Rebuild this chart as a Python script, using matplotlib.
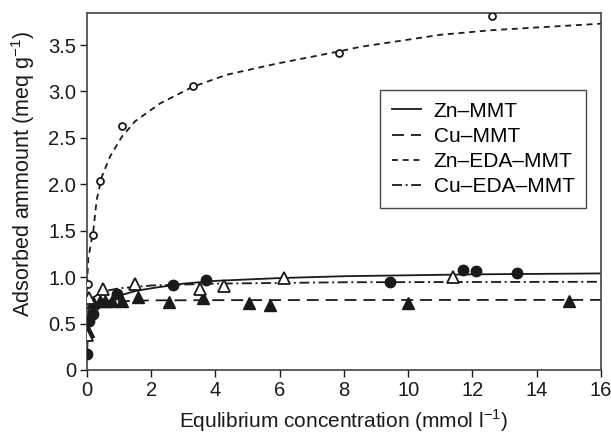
import numpy as np
import matplotlib
matplotlib.use("Agg")
import matplotlib.pyplot as plt

plt.rcParams["font.family"] = ["Liberation Sans", "DejaVu Sans"]
plt.rcParams["mathtext.fontset"] = "custom"
plt.rcParams["mathtext.rm"] = "Liberation Sans"
plt.rcParams["lines.scale_dashes"] = False

# measured points
zn_mmt_x = [0.0, 0.05, 0.2, 0.94, 2.67, 3.71, 9.44, 11.7, 12.1, 13.39]
zn_mmt_y = [0.17, 0.53, 0.60, 0.82, 0.92, 0.97, 0.95, 1.08, 1.07, 1.04]

cu_mmt_x = [0.02, 0.2, 0.4, 0.56, 0.77, 1.1, 1.6, 2.56, 3.62, 5.03, 5.7, 9.99, 14.99]
cu_mmt_y = [0.42, 0.73, 0.74, 0.74, 0.74, 0.74, 0.79, 0.73, 0.77, 0.72, 0.70, 0.72, 0.74]

zneda_x = [0.02, 0.2, 0.4, 1.08, 3.29, 7.83, 12.6]
zneda_y = [0.93, 1.45, 2.04, 2.63, 3.06, 3.41, 3.81]

cueda_x = [0.0, 0.07, 0.5, 1.5, 3.52, 4.25, 6.12, 11.39]
cueda_y = [0.38, 0.77, 0.87, 0.93, 0.87, 0.90, 0.99, 1.00]

# fitted curves
zn_fit_x = [0, 0.02, 0.05, 0.1, 0.2, 0.4, 0.7, 1.0, 1.5, 2, 3, 4, 6, 8, 10, 12, 14, 16]
zn_fit_y = [0.17, 0.32, 0.45, 0.53, 0.60, 0.68, 0.75, 0.80, 0.85, 0.88, 0.93, 0.96, 0.99, 1.01, 1.02, 1.03, 1.035, 1.04]

cu_fit_x = [0, 0.02, 0.05, 0.1, 0.2, 0.4, 0.7, 1.0, 2, 4, 8, 16]
cu_fit_y = [0.35, 0.45, 0.55, 0.62, 0.67, 0.71, 0.73, 0.74, 0.75, 0.752, 0.754, 0.755]

zneda_fit_x = [0, 0.04, 0.2, 0.3, 0.46, 0.72, 1.08, 1.5, 2.27, 3.29, 4.35, 5.91, 7.83, 8.5, 11.0, 12.6, 16]
zneda_fit_y = [0.92, 1.20, 1.51, 1.83, 2.08, 2.30, 2.51, 2.68, 2.87, 3.05, 3.18, 3.30, 3.43, 3.48, 3.61, 3.66, 3.73]

cueda_fit_x = [0, 0.02, 0.05, 0.1, 0.2, 0.4, 0.7, 1.0, 2, 4, 8, 16]
cueda_fit_y = [0.35, 0.50, 0.62, 0.72, 0.78, 0.83, 0.86, 0.88, 0.91, 0.93, 0.945, 0.95]

ink = "#1a1a1a"

fig = plt.figure(figsize=(6.11, 4.36), dpi=100)
ax = fig.add_axes([0.1424, 0.1514, 0.8412, 0.8188])

l1, = ax.plot(zn_fit_x, zn_fit_y, color=ink, lw=1.3, label="Zn\u2013MMT")
l2, = ax.plot(cu_fit_x, cu_fit_y, color=ink, lw=1.3, dashes=(8.6, 5), label="Cu\u2013MMT")
l3, = ax.plot(zneda_fit_x, zneda_fit_y, color=ink, lw=1.3, dashes=(4.3, 3.4), label="Zn\u2013EDA\u2013MMT")
l4, = ax.plot(cueda_fit_x, cueda_fit_y, color=ink, lw=1.3, dashes=(7.2, 2.6, 1.4, 2.6), label="Cu\u2013EDA\u2013MMT")

ax.plot(cu_mmt_x, cu_mmt_y, "^", color=ink, ms=8.5, ls="none", zorder=3)
ax.plot(cueda_x, cueda_y, "^", mfc="white", mec=ink, mew=1.3, ms=8.5, ls="none", zorder=3)
ax.plot(zn_mmt_x, zn_mmt_y, "o", color=ink, ms=7.5, ls="none", zorder=4)
ax.plot(zneda_x, zneda_y, "o", mfc="white", mec=ink, mew=1.3, ms=5, ls="none", zorder=4)

ax.set_xlim(0, 16)
ax.set_ylim(0, 3.845)
ax.set_xticks(np.arange(0, 17, 2))
ax.set_yticks([0, 0.5, 1.0, 1.5, 2.0, 2.5, 3.0, 3.5])
ax.set_yticklabels(["0", "0.5", "1.0", "1.5", "2.0", "2.5", "3.0", "3.5"])
ax.tick_params(direction="out", length=5, width=1, labelsize=14.5, colors=ink, top=False, right=False, pad=3)
for s in ax.spines.values():
    s.set_color("#444444")
    s.set_linewidth(1.2)

ax.set_xlabel(r"Equlibrium concentration (mmol l$^{\mathregular{-1}}$)", fontsize=15, color=ink)
ax.set_ylabel(r"Adsorbed ammount (meq g$^{\mathregular{-1}}$)", fontsize=15.5, color=ink)
ax.xaxis.set_label_coords(0.5, -0.105)
ax.yaxis.set_label_coords(-0.097, 0.55)

leg = ax.legend(handles=[l1, l2, l3, l4], loc="upper right", bbox_to_anchor=(0.971, 0.784),
                fontsize=15, frameon=True, fancybox=False, edgecolor=ink, handlelength=1.4,
                handletextpad=0.6, labelspacing=0.3, borderpad=0.55, borderaxespad=0)
leg.get_frame().set_linewidth(1.0)

fig.savefig("out.png", dpi=100)
